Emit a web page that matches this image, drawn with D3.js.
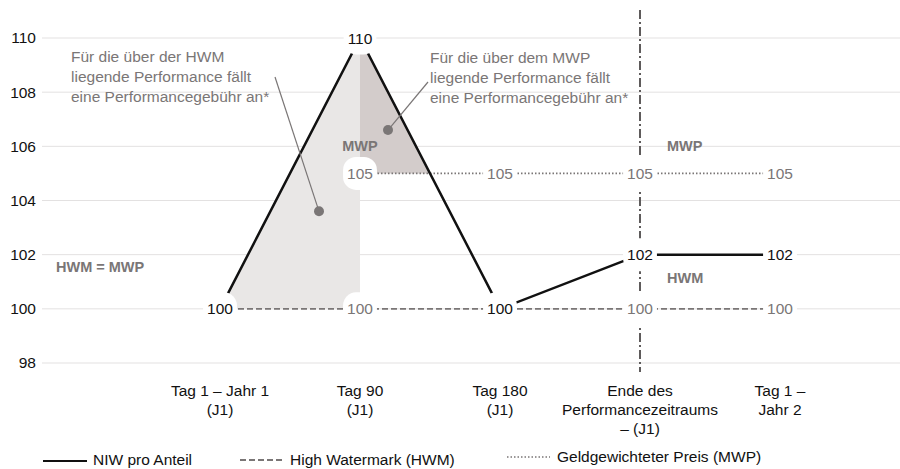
<!DOCTYPE html>
<html>
<head>
<meta charset="utf-8">
<script src="https://cdn.jsdelivr.net/npm/d3@7/dist/d3.min.js"></script>
<style>
  html, body { margin: 0; padding: 0; background: #fff; }
  svg { display: block; font-family: "Liberation Sans", Arial, sans-serif; }
</style>
</head>
<body>
<svg id="chart" width="900" height="469"></svg>
<script>
// ---------- data ----------
const categories = ["Tag 1 – Jahr 1", "Tag 90", "Tag 180", "Ende des Performancezeitraums", "Tag 1 – Jahr 2"];
const categoryLines = [
  ["Tag 1 – Jahr 1", "(J1)"],
  ["Tag 90", "(J1)"],
  ["Tag 180", "(J1)"],
  ["Ende des", "Performancezeitraums", "– (J1)"],
  ["Tag 1 –", "Jahr 2"]
];
const navValues = [100, 110, 100, 102, 102];   // NIW pro Anteil
const hwmValues = [100, 100, 100, 100, 100];   // High Watermark
const mwpValues = [null, 105, 105, 105, 105];  // Geldgewichteter Preis
const yTicks = [98, 100, 102, 104, 106, 108, 110];
const legendLabels = ["NIW pro Anteil", "High Watermark (HWM)", "Geldgewichteter Preis (MWP)"];
const noteHWM = ["Für die über der HWM", "liegende Performance fällt", "eine Performancegebühr an*"];
const noteMWP = ["Für die über dem MWP", "liegende Performance fällt", "eine Performancegebühr an*"];

// ---------- scales ----------
const svg = d3.select("#chart");
const x = d3.scalePoint().domain(categories).range([220, 780]);
const y = d3.scaleLinear().domain([98, 110]).range([363, 38]);
const X = i => x(categories[i]);

const grey = "#7a7676";
const gridC = "#e3e1e1";

// ---------- gridlines + y axis ----------
const yAxis = d3.axisLeft(y).tickValues(yTicks).tickSize(0).tickPadding(0).tickFormat(d3.format("d"));
const gy = svg.append("g").attr("transform", "translate(36,0)").call(yAxis);
gy.select(".domain").remove();
gy.selectAll("text").attr("font-size", 15.5).attr("fill", "#111").attr("font-family", "Liberation Sans, Arial, sans-serif");
svg.append("g").selectAll("line").data(yTicks).join("line")
  .attr("x1", 42).attr("x2", 900)
  .attr("y1", d => y(d)).attr("y2", d => y(d))
  .attr("stroke", gridC).attr("stroke-width", 1);

// ---------- shaded areas ----------
svg.append("path")
  .attr("d", d3.line()([[X(0), y(hwmValues[0])], [X(1), y(navValues[1])], [X(1), y(hwmValues[1])]]) + "Z")
  .attr("fill", "#e9e7e6");
const tCross = (navValues[1] - mwpValues[1]) / (navValues[1] - navValues[2]);
const xCross = X(1) + (X(2) - X(1)) * tCross;
svg.append("path")
  .attr("d", d3.line()([[X(1), y(navValues[1])], [xCross, y(mwpValues[1])], [X(1), y(mwpValues[1])]]) + "Z")
  .attr("fill", "#d3cccb");

// ---------- vertical end-of-period line ----------
svg.append("line")
  .attr("x1", X(3)).attr("x2", X(3)).attr("y1", 10).attr("y2", 372)
  .attr("stroke", "#5e5b5b").attr("stroke-width", 2)
  .attr("stroke-dasharray", "9,3,2,3");

// ---------- series lines ----------
const line = d3.line().defined(d => d[1] != null).x(d => X(d[0])).y(d => y(d[1]));
svg.append("path").attr("d", line(hwmValues.map((v, i) => [i, v])))
  .attr("fill", "none").attr("stroke", grey).attr("stroke-width", 1.8).attr("stroke-dasharray", "6,3");
svg.append("path").attr("d", line(mwpValues.map((v, i) => [i, v])))
  .attr("fill", "none").attr("stroke", grey).attr("stroke-width", 1.8).attr("stroke-dasharray", "1.5,2");
svg.append("path").attr("d", line(navValues.map((v, i) => [i, v])))
  .attr("fill", "none").attr("stroke", "#111").attr("stroke-width", 2.5).attr("stroke-linejoin", "miter");

// ---------- value labels with white rounded backgrounds ----------
const labels = [];
navValues.forEach((v, i) => labels.push({ i, v, c: "#111" }));
hwmValues.forEach((v, i) => { if (v !== navValues[i]) labels.push({ i, v, c: grey }); });
mwpValues.forEach((v, i) => { if (v != null && v !== navValues[i]) labels.push({ i, v, c: grey }); });
const lg = svg.append("g");
labels.forEach(d => {
  const g = lg.append("g").attr("transform", `translate(${X(d.i)},${y(d.v)})`);
  const r = g.append("rect");
  const t = g.append("text").text(d.v).attr("text-anchor", "middle").attr("dy", "0.36em")
    .attr("font-size", 15.5).attr("fill", d.c);
  const w = t.node().getComputedTextLength();
  r.attr("x", -w / 2 - 4).attr("width", w + 8).attr("y", -16.5).attr("height", 33)
    .attr("rx", 13).attr("fill", "#fff");
});

// ---------- region labels ----------
const bold = (txt, xx, yy, anchor) => svg.append("text").text(txt)
  .attr("x", xx).attr("y", yy).attr("text-anchor", anchor || "start")
  .attr("font-size", 14.5).attr("font-weight", "bold").attr("fill", grey);
bold("MWP", X(1), y(106) + 5, "middle");
bold("MWP", 667, y(106) + 5);
bold("HWM", 667, y(101.15) + 5.5);
bold("HWM = MWP", 56, y(101.56) + 5.5);

// ---------- annotations ----------
function note(lines, xx, yy) {
  const t = svg.append("text").attr("x", xx).attr("y", yy).attr("font-size", 15.5).attr("fill", grey);
  lines.forEach((l, k) => t.append("tspan").attr("x", xx).attr("dy", k ? 20 : 0).text(l));
}
note(noteHWM, 71, 62);
note(noteMWP, 430, 63);
svg.append("line").attr("x1", 275).attr("y1", 77).attr("x2", 319).attr("y2", y(103.6))
  .attr("stroke", grey).attr("stroke-width", 1.2);
svg.append("circle").attr("cx", 319).attr("cy", y(103.6)).attr("r", 5).attr("fill", grey);
svg.append("line").attr("x1", 428).attr("y1", 82).attr("x2", 388).attr("y2", y(106.6))
  .attr("stroke", grey).attr("stroke-width", 1.2);
svg.append("circle").attr("cx", 388).attr("cy", y(106.6)).attr("r", 5).attr("fill", grey);

// ---------- x labels ----------
const xl = svg.append("g");
categoryLines.forEach((lines, i) => {
  const t = xl.append("text").attr("x", X(i)).attr("y", 396).attr("text-anchor", "middle")
    .attr("font-size", 15.5).attr("fill", "#111");
  lines.forEach((l, k) => t.append("tspan").attr("x", X(i)).attr("dy", k ? 19 : 0).text(l));
});

// ---------- legend ----------
const leg = svg.append("g");
leg.append("line").attr("x1", 43).attr("x2", 87).attr("y1", 461).attr("y2", 461)
  .attr("stroke", "#111").attr("stroke-width", 2.2);
leg.append("text").attr("x", 93).attr("y", 465).attr("font-size", 15.5).attr("fill", "#111").text(legendLabels[0]);
leg.append("line").attr("x1", 240).attr("x2", 283).attr("y1", 460).attr("y2", 460)
  .attr("stroke", grey).attr("stroke-width", 1.8).attr("stroke-dasharray", "6,3");
leg.append("text").attr("x", 290).attr("y", 465).attr("font-size", 15.5).attr("fill", "#111").text(legendLabels[1]);
leg.append("line").attr("x1", 507).attr("x2", 550).attr("y1", 457).attr("y2", 457)
  .attr("stroke", grey).attr("stroke-width", 1.6).attr("stroke-dasharray", "1.5,2");
leg.append("text").attr("x", 557).attr("y", 462).attr("font-size", 15.5).attr("fill", "#111").text(legendLabels[2]);
</script>
</body>
</html>
